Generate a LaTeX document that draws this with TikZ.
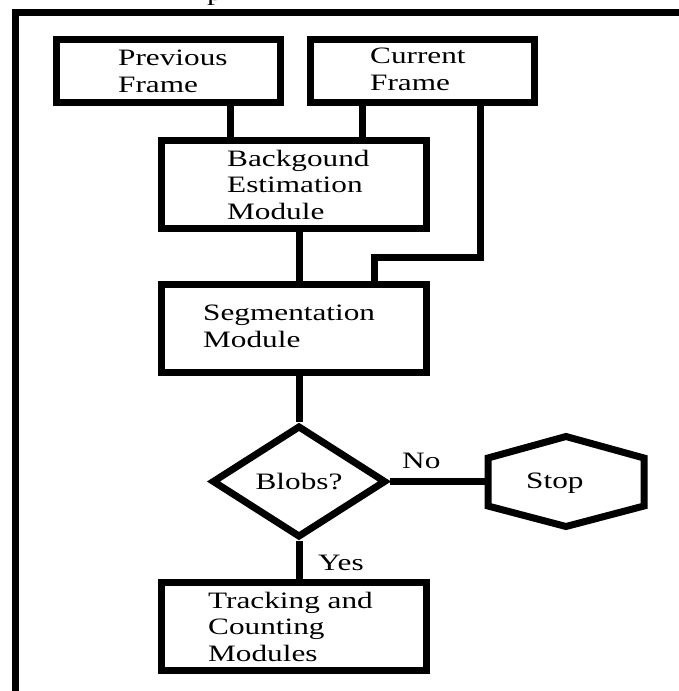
\documentclass[tikz,border=0pt]{standalone}
\usepackage{fontspec}
\setmainfont{Liberation Serif}[FakeStretch=1.33]
\usetikzlibrary{shapes.geometric,calc}
\begin{document}
\begin{tikzpicture}[x=1pt,y=-1pt,
  box/.style={draw, line width=7pt, rectangle, inner sep=0pt},
  lbl/.style={inner sep=0pt, anchor=base west, align=left, font=\fontsize{23.5}{26.5}\selectfont},
  wire/.style={line width=7pt, line join=miter}]
\useasboundingbox (0,0) rectangle (679,691);
\clip (0,0) rectangle (679,691);
\fill[white] (0,0) rectangle (679,691);
% outer frame (extends past the picture)
\draw[line width=7pt] (15,12) rectangle (760,760);
\node[lbl] (ptop) at (207,0.5) {p};
% boxes
\node[box, minimum width=224pt, minimum height=63.5pt] (prev) at (168.5,70.75) {};
\node[box, minimum width=224pt, minimum height=63.5pt] (cur) at (422.5,70.75) {};
\node[box, minimum width=265pt, minimum height=88pt] (bem) at (294,184) {};
\node[box, minimum width=265pt, minimum height=87.5pt] (seg) at (294,328.25) {};
\node[box, minimum width=265pt, minimum height=88pt] (trk) at (294,626) {};
\node[draw, diamond, line width=7pt, minimum width=174pt, minimum height=112pt, inner sep=0pt,
      font=\fontsize{23.5}{26.5}\selectfont] (dec) at (299,481.5) {Blobs?};
% texts (anchored at the baseline of their last line)
\node[lbl] (prevT) at (118,92) {Previous\\Frame};
\node[lbl] (curT) at (370,90) {Current\\Frame};
\node[lbl] (bemT) at (227,219) {Backgound\\Estimation\\Module};
\node[lbl] (segT) at (203,347) {Segmentation\\Module};
\node[lbl] (trkT) at (208,661) {Tracking and\\Counting\\Modules};
\node[lbl] (stopT) at (526,488) {Stop};
\node[lbl] (noT) at (402,468) {No};
\node[lbl] (yesT) at (318,570) {Yes};
% stop hexagon
\coordinate (stopc) at (566,481.5);
\coordinate (hexW) at (488,481.5);
\draw[wire] ($(stopc)+(0,-45)$) -- ($(stopc)+(78,-23.5)$) -- ($(stopc)+(78,24.5)$)
  -- ($(stopc)+(0,45)$) -- ($(stopc)+(-78,24.5)$) -- ($(stopc)+(-78,-23.5)$) -- cycle;
% connectors
\coordinate (c1) at (230,0);
\coordinate (c2) at (362,0);
\coordinate (e1) at (480,257);
\coordinate (e2) at (374,257);
\coordinate (c3) at (299,0);
\draw[wire] (prev.south -| c1) -- (bem.north -| c1);
\draw[wire] (cur.south -| c2) -- (bem.north -| c2);
\draw[wire] (cur.south -| e1) -- (e1) -- (e2) -- (seg.north -| e2);
\draw[wire] (bem.south -| c3) -- (seg.north -| c3);
\draw[wire] (seg.south -| c3) -- (dec.north);
\draw[wire] (dec.east) -- (hexW);
\draw[wire] (dec.south) -- (trk.north -| dec.south);
\end{tikzpicture}
\end{document}
